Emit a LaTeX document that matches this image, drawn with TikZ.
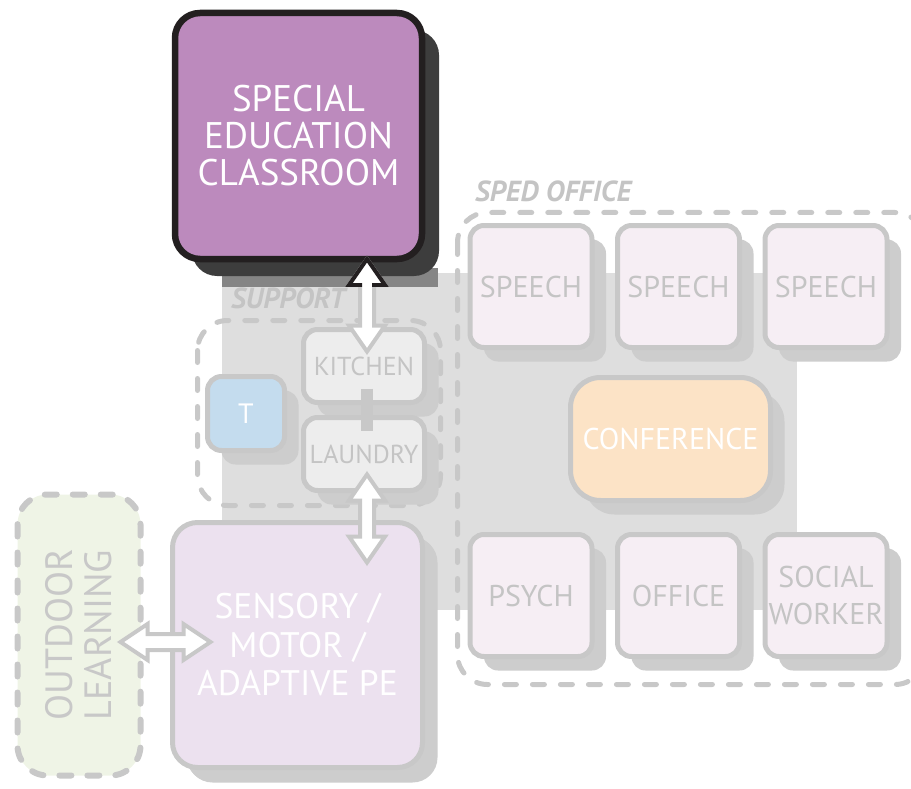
\documentclass[tikz,border=0pt]{standalone}
\usepackage{fontspec}
\setmainfont{PT Sans}
\usetikzlibrary{shapes,arrows,positioning,shadows,calc}

\definecolor{negro}{HTML}{231F20}
\definecolor{aulamorado}{HTML}{BC8ABD}
\definecolor{sombraoscura}{HTML}{3D3D3D}
\definecolor{bandagris}{HTML}{858585}
\definecolor{fondogris}{HTML}{DEDEDE}
\definecolor{bordegris}{HTML}{C8C8C8}
\definecolor{sombragris}{HTML}{CDCDCD}
\definecolor{textogris}{HTML}{C4C4C4}
\definecolor{cocinagris}{HTML}{EDEDED}
\definecolor{azulclaro}{HTML}{C4DCEE}
\definecolor{rosaclaro}{HTML}{F6EEF4}
\definecolor{lilaclaro}{HTML}{ECE1EF}
\definecolor{verdeclaro}{HTML}{EFF4E6}
\definecolor{naranjaclaro}{HTML}{FCE3C6}

\begin{document}
\begin{tikzpicture}[x=1pt,y=-1pt]
            % Estilos
            \tikzstyle{caja}=[draw=bordegris, line width=5pt, rounded corners=14pt, inner sep=0pt, outer sep=0pt, align=center, text=textogris]
            \tikzstyle{sala}=[caja, drop shadow={shadow xshift=14pt, shadow yshift=-14pt, fill=sombragris, opacity=1}]
            \tikzstyle{oficina}=[sala, fill=rosaclaro, minimum width=122pt, minimum height=122pt, font=\fontsize{30}{37}\selectfont]
            \tikzstyle{apoyo}=[sala, fill=cocinagris, minimum width=121pt, minimum height=73pt, font=\fontsize{26}{30}\selectfont]
            \tikzstyle{zona}=[draw=bordegris, line width=5pt, dash pattern=on 12pt off 16pt, line cap=round, rounded corners=30pt]
            \tikzstyle{etiqueta}=[text=textogris, font=\fontsize{29}{29}\selectfont\bfseries\itshape, inner sep=0pt, anchor=base west]
            \tikzstyle{flecha}=[draw=bordegris, fill=white, line width=4pt, line join=miter]

            \useasboundingbox (0,0) rectangle (911,789);

            % Fondo y zonas
            \fill[fondogris] (222,273) rectangle (797,610);
            \fill[bandagris] (222,268) rectangle (438,287);
            \draw[zona] (197.5,320.5) rectangle (440.5,505.5);
            \draw[zona] (457.5,212.5) rectangle (925,684.5);
            \node[etiqueta] (lbapoyo) at (231,308) {SUPPORT};
            \node[etiqueta] (lbsped) at (475,202) {SPED OFFICE};

            % Nodos
            \node[caja, fill=aulamorado, draw=negro, line width=6.5pt, rounded corners=25pt, minimum width=247pt, minimum height=246pt, text=white, font=\fontsize{37}{37}\selectfont, drop shadow={shadow xshift=17pt, shadow yshift=-17pt, fill=sombraoscura, opacity=1}] (aula) at (298.5,136) {SPECIAL\\EDUCATION\\CLASSROOM};

            \node[apoyo] (cocina) at (364,366) {KITCHEN};
            \node[apoyo, below=15pt of cocina] (lavanderia) {LAUNDRY};
            \node[sala, fill=azulclaro, minimum width=77pt, minimum height=74pt, text=white, font=\fontsize{28}{30}\selectfont] (t) at (246,413.5) {T};

            \node[sala, fill=lilaclaro, rounded corners=25pt, minimum width=250pt, minimum height=245pt, text=white, font=\fontsize{35.5}{38.5}\selectfont, drop shadow={shadow xshift=15pt, shadow yshift=-15pt, fill=sombragris, opacity=1}] (sensorial) at (297.5,645) {SENSORY /\\MOTOR /\\ADAPTIVE PE};
            \node[caja, fill=verdeclaro, line width=6pt, dash pattern=on 12pt off 16pt, line cap=round, rounded corners=30pt, rotate=90, minimum width=281pt, minimum height=123pt, text=bordegris, font=\fontsize{38}{39}\selectfont] (exterior) at (79,635) {OUTDOOR\\LEARNING};

            \node[oficina] (habla1) at (531,286.5) {SPEECH};
            \node[oficina, right=25.5pt of habla1] (habla2) {SPEECH};
            \node[oficina, right=25.5pt of habla2] (habla3) {SPEECH};
            \node[sala, fill=naranjaclaro, rounded corners=30pt, minimum width=200pt, minimum height=123pt, text=white, font=\fontsize{30}{30}\selectfont, below=30pt of habla2, xshift=-8pt] (conferencia) {CONFERENCE};
            \node[oficina, below=187pt of habla1] (psico) {PSYCH};
            \node[oficina, right=25.5pt of psico] (despacho) {OFFICE};
            \node[oficina, right=25.5pt of despacho] (trabajador) {SOCIAL\\WORKER};

            % Flechas
            \draw[bordegris, line width=12pt] ([xshift=3pt,yshift=14pt]cocina.south) -- ([xshift=3pt,yshift=-13pt]lavanderia.north);

            \coordinate[xshift=3pt] (ck1) at (cocina.north |- aula.south);
            \coordinate[xshift=3pt, yshift=-22pt] (ck2) at (cocina.north);
            \coordinate[xshift=3pt, yshift=16pt] (ls1) at (lavanderia.south);
            \coordinate[yshift=-40pt] (ls2) at (ls1 |- sensorial.north);
            \coordinate[xshift=-20pt, yshift=3pt] (os1) at (exterior.south |- sensorial.west);
            \coordinate[xshift=38pt] (os2) at (os1 -| sensorial.west);

            \draw[flecha] let \p1=(ck1), \p2=(ck2) in (\x1,\y1) -- (\x1+18pt,\y1-26pt) -- (\x1+7pt,\y1-26pt) -- (\x1+7pt,\y2+26pt) -- (\x1+18pt,\y2+26pt) -- (\x1,\y2) -- (\x1-18pt,\y2+26pt) -- (\x1-7pt,\y2+26pt) -- (\x1-7pt,\y1-26pt) -- (\x1-18pt,\y1-26pt) -- cycle;
            \begin{scope}
                \clip (150,230) rectangle (450,286);
                \draw[flecha, draw=negro] let \p1=(ck1), \p2=(ck2) in (\x1,\y1) -- (\x1+18pt,\y1-26pt) -- (\x1+7pt,\y1-26pt) -- (\x1+7pt,\y2+26pt) -- (\x1+18pt,\y2+26pt) -- (\x1,\y2) -- (\x1-18pt,\y2+26pt) -- (\x1-7pt,\y2+26pt) -- (\x1-7pt,\y1-26pt) -- (\x1-18pt,\y1-26pt) -- cycle;
            \end{scope}
            \draw[flecha] let \p1=(ls1), \p2=(ls2) in (\x1,\y1) -- (\x1+18pt,\y1-26pt) -- (\x1+7pt,\y1-26pt) -- (\x1+7pt,\y2+26pt) -- (\x1+18pt,\y2+26pt) -- (\x1,\y2) -- (\x1-18pt,\y2+26pt) -- (\x1-7pt,\y2+26pt) -- (\x1-7pt,\y1-26pt) -- (\x1-18pt,\y1-26pt) -- cycle;
            \draw[flecha] let \p1=(os1), \p2=(os2) in (\x1,\y1) -- (\x1+27pt,\y1+18pt) -- (\x1+27pt,\y1+8pt) -- (\x2-27pt,\y1+8pt) -- (\x2-27pt,\y1+18pt) -- (\x2,\y1) -- (\x2-27pt,\y1-18pt) -- (\x2-27pt,\y1-8pt) -- (\x1+27pt,\y1-8pt) -- (\x1+27pt,\y1-18pt) -- cycle;
\end{tikzpicture}
\end{document}
